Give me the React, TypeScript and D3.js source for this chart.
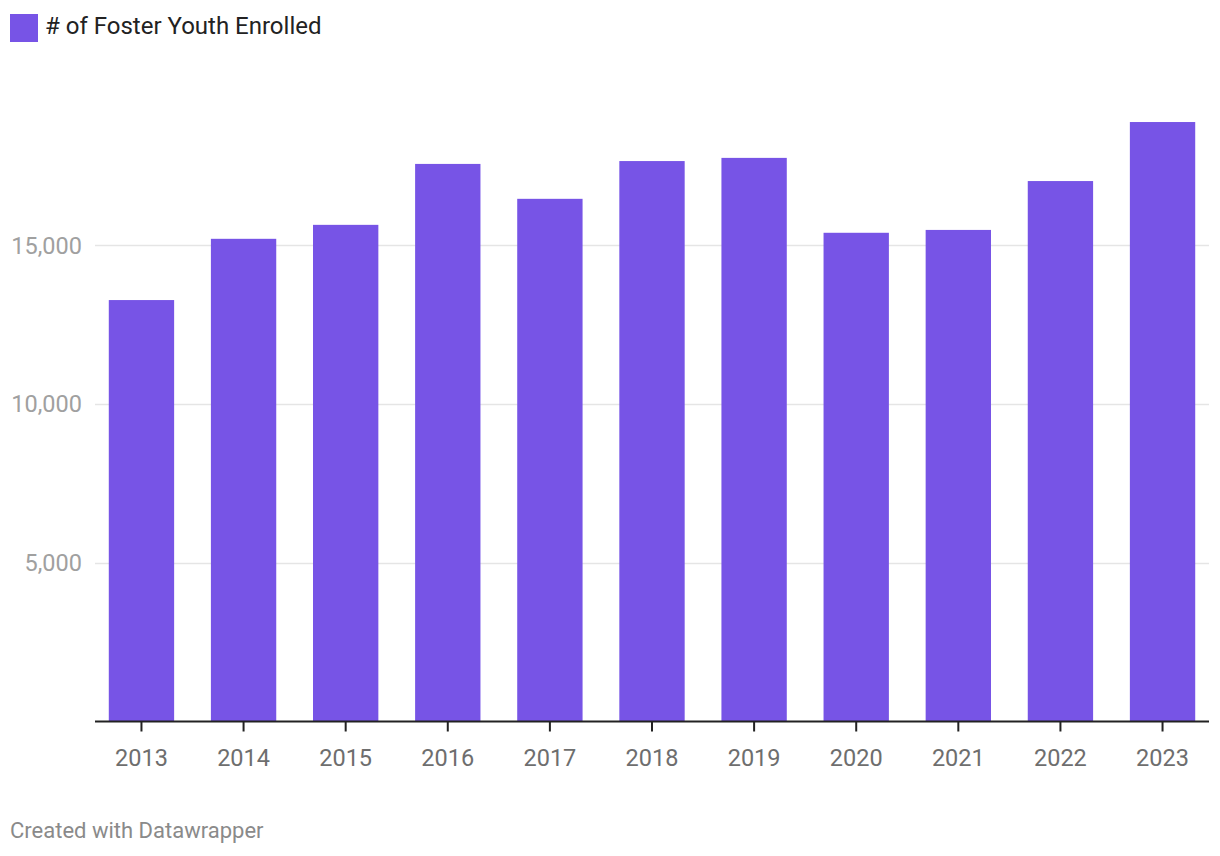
import React from 'react'
import * as d3 from 'd3'

const years = ['2013', '2014', '2015', '2016', '2017', '2018', '2019', '2020', '2021', '2022', '2023']
const enrolled = [13280, 15210, 15650, 17570, 16470, 17660, 17760, 15400, 15490, 17030, 18890]
const yTicks = [5000, 10000, 15000]

const W = 1220
const H = 856
const BAR = '#7754e6'

export default function App() {
  const x = d3.scaleBand<string>().domain(years).range([95, 1209]).paddingInner(0.36).paddingOuter(0.135)
  const y = d3.scaleLinear().domain([0, 20000]).range([721.5, 86.8])
  const font = 'Roboto, "Noto Sans", sans-serif'

  return (
    <svg width={W} height={H} style={{ position: 'absolute', left: 0, top: 0, background: '#fff' }}>
      {/* legend */}
      <rect x={10} y={14} width={28} height={28} fill={BAR} />
      <text x={45} y={33.5} fontFamily={font} fontSize={24} fill="#222">
        # of Foster Youth Enrolled
      </text>

      {/* grid + y labels */}
      {yTicks.map((t) => (
        <g key={t}>
          <line x1={95} x2={1209} y1={Math.round(y(t)) + 0.5} y2={Math.round(y(t)) + 0.5} stroke="#e5e5e5" strokeWidth={1.5} />
          <text x={82} y={y(t)} dy="0.35em" textAnchor="end" fontFamily={font} fontSize={23.5} fill="#a0a0a0">
            {d3.format(',')(t)}
          </text>
        </g>
      ))}

      {/* bars */}
      {years.map((yr, i) => (
        <rect key={yr} x={x(yr)} y={y(enrolled[i])} width={x.bandwidth()} height={y(0) - y(enrolled[i])} fill={BAR} />
      ))}

      {/* x axis */}
      <line x1={95} x2={1209} y1={y(0)} y2={y(0)} stroke="#222" strokeWidth={2} />
      {years.map((yr) => {
        const cx = (x(yr) as number) + x.bandwidth() / 2
        return (
          <g key={yr}>
            <line x1={cx} x2={cx} y1={y(0)} y2={y(0) + 10} stroke="#222" strokeWidth={2} />
            <text x={cx} y={766} textAnchor="middle" fontFamily={font} fontSize={23.5} fill="#6e6e6e">
              {yr}
            </text>
          </g>
        )
      })}

      <text x={10} y={838} fontFamily={font} fontSize={22} fill="#8a8a8a">
        Created with Datawrapper
      </text>
    </svg>
  )
}
